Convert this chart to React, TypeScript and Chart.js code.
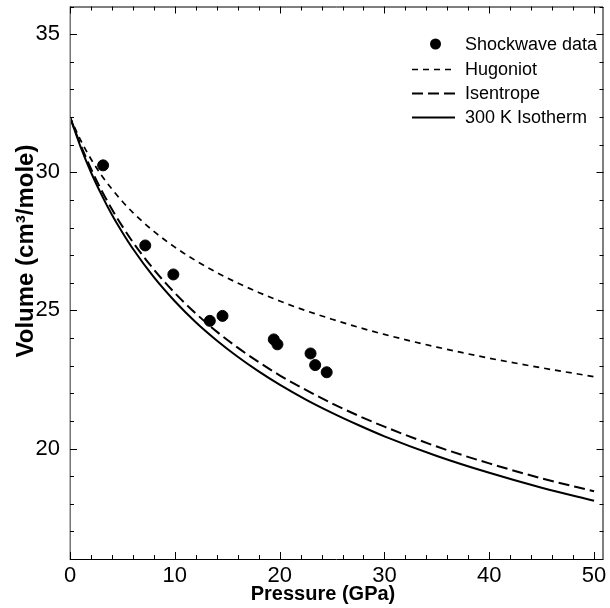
import React, { useEffect, useRef } from 'react';
import { Chart, registerables } from 'chart.js';

Chart.register(...registerables);

// ---- data ----
const shockP = [3.16, 7.18, 9.86, 13.34, 14.55, 19.44, 19.79, 22.95, 23.39, 24.49];
const shockV = [30.25, 27.35, 26.3, 24.62, 24.8, 23.95, 23.77, 23.44, 23.02, 22.76];

const curveP = [0, 1, 2, 3, 4, 5, 6, 8, 10, 12, 14, 16, 18, 20, 22.5, 25, 27.5, 30, 35, 40, 45, 50];
const hugoniotV = [32, 31.17, 30.48, 29.89, 29.39, 28.94, 28.54, 27.86, 27.29, 26.8, 26.37, 25.99, 25.65, 25.34, 24.99, 24.68, 24.39, 24.13, 23.67, 23.27, 22.92, 22.6];
const isentropeV = [32, 31.0, 30.13, 29.35, 28.66, 28.04, 27.47, 26.48, 25.63, 24.89, 24.23, 23.65, 23.13, 22.65, 22.12, 21.63, 21.19, 20.79, 20.07, 19.46, 18.92, 18.45];
const isothermV = [32, 30.93, 30.0, 29.19, 28.46, 27.82, 27.23, 26.2, 25.33, 24.57, 23.91, 23.32, 22.79, 22.31, 21.77, 21.29, 20.85, 20.44, 19.73, 19.12, 18.58, 18.11];

const seriesLabels = ['Shockwave data', 'Hugoniot', 'Isentrope', '300 K Isotherm'];

const xTickValues = [0, 2, 4, 6, 8, 10, 12, 14, 16, 18, 20, 22, 24, 26, 28, 30, 32, 34, 36, 38, 40, 42, 44, 46, 48, 50];
const xTickLabels = [0, 10, 20, 30, 40, 50];
const yTickValues = [16, 17, 18, 19, 20, 21, 22, 23, 24, 25, 26, 27, 28, 29, 30, 31, 32, 33, 34, 35, 36];
const yTickLabels = [20, 25, 30, 35];

const xTitle = 'Pressure (GPa)';
const yTitle = 'Volume (cm³/mole)';

const FONT = "'Liberation Sans', Arial, Helvetica, sans-serif";

const framePlugin = {
  id: 'frameTicks',
  afterDraw(chart: any) {
    const { ctx, chartArea, scales } = chart;
    const { left, right, top, bottom } = chartArea;
    const xs = scales.x;
    const ys = scales.y;
    ctx.save();
    // frame
    ctx.strokeStyle = '#000';
    ctx.lineWidth = 1;
    ctx.beginPath();
    ctx.moveTo(left, top + 0.5);
    ctx.lineTo(right - 0.5, top + 0.5);
    ctx.lineTo(right - 0.5, bottom + 0.5);
    ctx.lineTo(left, bottom + 0.5);
    ctx.stroke();
    ctx.strokeStyle = '#777';
    ctx.lineWidth = 1.5;
    ctx.beginPath();
    ctx.moveTo(left + 0.25, top);
    ctx.lineTo(left + 0.25, bottom + 1);
    ctx.stroke();
    // inward ticks on all sides
    ctx.strokeStyle = '#000';
    ctx.lineWidth = 1;
    ctx.beginPath();
    xTickValues.forEach((v) => {
      const px = Math.round(xs.getPixelForValue(v)) + 0.5;
      const len = xTickLabels.includes(v) ? 7 : 4;
      ctx.moveTo(px, bottom);
      ctx.lineTo(px, bottom - len);
      ctx.moveTo(px, top);
      ctx.lineTo(px, top + len);
    });
    yTickValues.forEach((v) => {
      const py = Math.round(ys.getPixelForValue(v)) + 0.5;
      const len = yTickLabels.includes(v) ? 7 : 4;
      ctx.moveTo(left, py);
      ctx.lineTo(left + len, py);
      ctx.moveTo(right, py);
      ctx.lineTo(right - len, py);
    });
    ctx.stroke();

    // axis titles
    ctx.fillStyle = '#000';
    ctx.textAlign = 'center';
    ctx.textBaseline = 'middle';
    ctx.font = `bold 20px ${FONT}`;
    ctx.fillText(xTitle, 323, 594);
    ctx.save();
    ctx.translate(26, 251);
    ctx.rotate(-Math.PI / 2);
    ctx.font = `bold 24px ${FONT}`;
    ctx.fillText(yTitle, 0, 0);
    ctx.restore();

    // legend
    const lx0 = 412;
    const lx1 = 455;
    const tx = 465;
    const rowY = [44, 69, 93, 117];
    ctx.font = `18px ${FONT}`;
    ctx.textAlign = 'left';
    chart.data.datasets.forEach((ds: any, i: number) => {
      const y = rowY[i];
      if (ds.showLine === false) {
        ctx.beginPath();
        ctx.fillStyle = ds.pointBackgroundColor;
        ctx.arc((lx0 + lx1) / 2 + 2, y, ds.pointRadius, 0, Math.PI * 2);
        ctx.fill();
      } else {
        ctx.beginPath();
        ctx.strokeStyle = ds.borderColor;
        ctx.lineWidth = ds.borderWidth;
        ctx.setLineDash(ds.borderDash || []);
        ctx.moveTo(lx0, y + 0.5);
        ctx.lineTo(lx1, y + 0.5);
        ctx.stroke();
        ctx.setLineDash([]);
      }
      ctx.fillStyle = '#000';
      ctx.fillText(ds.label, tx, y + 1);
    });
    ctx.restore();
  },
};

const zeroPad = (s: any) => {
  s.paddingTop = 0;
  s.paddingBottom = 0;
  s.paddingLeft = 0;
  s.paddingRight = 0;
};

export default function App() {
  const ref = useRef<HTMLCanvasElement | null>(null);
  useEffect(() => {
    if (!ref.current) return;
    const toXY = (xsArr: number[], ysArr: number[]) => xsArr.map((x, i) => ({ x, y: ysArr[i] }));
    const chart = new Chart(ref.current, {
      type: 'scatter',
      data: {
        datasets: [
          {
            label: seriesLabels[0],
            data: toXY(shockP, shockV),
            showLine: false,
            pointRadius: 5.5,
            pointBackgroundColor: '#000',
            pointBorderColor: '#000',
            borderColor: '#000',
          },
          {
            label: seriesLabels[1],
            data: toXY(curveP, hugoniotV),
            showLine: true,
            pointRadius: 0,
            borderColor: '#000',
            borderWidth: 1.7,
            borderDash: [6, 5],
            cubicInterpolationMode: 'monotone',
          },
          {
            label: seriesLabels[2],
            data: toXY(curveP, isentropeV),
            showLine: true,
            pointRadius: 0,
            borderColor: '#000',
            borderWidth: 2,
            borderDash: [11, 5],
            cubicInterpolationMode: 'monotone',
          },
          {
            label: seriesLabels[3],
            data: toXY(curveP, isothermV),
            showLine: true,
            pointRadius: 0,
            borderColor: '#000',
            borderWidth: 2,
            cubicInterpolationMode: 'monotone',
          },
        ],
      } as any,
      options: {
        animation: false,
        responsive: false,
        devicePixelRatio: 1,
        layout: { padding: { top: 6, right: 3, left: 0, bottom: 0 } },
        plugins: { legend: { display: false }, tooltip: { enabled: false } },
        scales: {
          x: {
            type: 'linear',
            min: 0,
            max: 50.9,
            grid: { display: false, drawTicks: false },
            border: { display: false },
            afterBuildTicks: (s: any) => {
              s.ticks = xTickValues.map((v) => ({ value: v }));
            },
            afterFit: (s: any) => {
              s.height = 49;
              zeroPad(s);
            },
            ticks: {
              autoSkip: false,
              maxRotation: 0,
              padding: 4,
              color: '#000',
              font: { family: FONT, size: 22 },
              callback: (v: any) => (xTickLabels.includes(Number(v)) ? String(v) : ''),
            },
          },
          y: {
            type: 'linear',
            min: 16,
            max: 36,
            grid: { display: false, drawTicks: false },
            border: { display: false },
            afterBuildTicks: (s: any) => {
              s.ticks = yTickValues.map((v) => ({ value: v }));
            },
            afterFit: (s: any) => {
              s.width = 70;
              zeroPad(s);
            },
            ticks: {
              autoSkip: false,
              padding: 10,
              color: '#000',
              font: { family: FONT, size: 22 },
              callback: (v: any) => (yTickLabels.includes(Number(v)) ? String(v) : ''),
            },
          },
        },
      } as any,
      plugins: [framePlugin],
    });
    return () => chart.destroy();
  }, []);
  return (
    <div style={{ position: 'fixed', left: 0, top: 0, width: 610, height: 608, background: '#fff' }}>
      <canvas ref={ref} width={610} height={608} />
    </div>
  );
}
